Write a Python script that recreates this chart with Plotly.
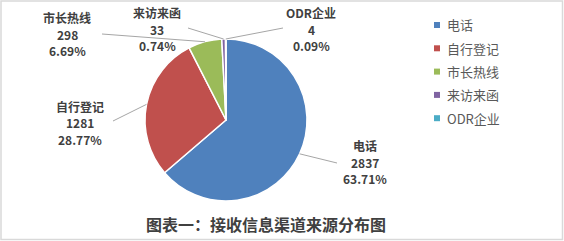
import math
import plotly.graph_objects as go

categories = ["电话", "自行登记", "市长热线", "来访来函", "ODR企业"]
values = [2837, 1281, 298, 33, 4]
percent_labels = ["63.71%", "28.77%", "6.69%", "0.74%", "0.09%"]
colors = ["#4F81BD", "#C0504D", "#9BBB59", "#8064A2", "#4BACC6"]
title_text = "图表一：接收信息渠道来源分布图"

W, H = 564, 241
CX, CY, R = 226, 120, 81

def px(x):
    return x / W

def py(y):
    return (H - y) / H

# label anchor positions (text center of middle line) and leader end points (pixel layout)
label_centers = [(365, 162), (80, 123), (67, 34), (157, 29), (311, 29)]
leader_ends = [(337, 163), (113, 121), (102, 34), (188, 28), (283, 28)]
LINE_GAP = 16.5

fig = go.Figure()
fig.add_trace(go.Pie(
    labels=categories,
    values=values,
    sort=False,
    direction="clockwise",
    rotation=0,
    marker=dict(colors=colors, line=dict(color="white", width=1.5)),
    textinfo="none",
    hoverinfo="label+value+percent",
    showlegend=False,
    domain=dict(x=[px(CX - R), px(CX + R)], y=[py(CY + R), py(CY - R)]),
))

shapes = []
annotations = []
total = sum(values)
cum = 0
for i, v in enumerate(values):
    mid = (cum + v / 2) / total * 2 * math.pi
    cum += v
    ex = CX + R * math.sin(mid)
    ey = CY - R * math.cos(mid)
    lx, ly = leader_ends[i]
    shapes.append(dict(type="line", xref="paper", yref="paper",
                       x0=px(ex), y0=py(ey), x1=px(lx), y1=py(ly),
                       line=dict(color="#A6A6A6", width=1)))
    tx, ty = label_centers[i]
    for k, line_text in enumerate([categories[i], str(v), percent_labels[i]]):
        annotations.append(dict(
            x=px(tx), y=py(ty + (k - 1) * LINE_GAP), xref="paper", yref="paper",
            text=f"<b>{line_text}</b>",
            showarrow=False, xanchor="center", yanchor="middle",
            borderpad=0, borderwidth=0,
            font=dict(family="Noto Sans CJK SC", size=12, color="#404040"),
        ))

# custom legend
for i, c in enumerate(categories):
    ly = 25 + i * 23.3
    shapes.append(dict(type="rect", xref="paper", yref="paper",
                       x0=px(434), x1=px(440), y0=py(ly + 3), y1=py(ly - 3),
                       fillcolor=colors[i], line=dict(width=0)))
    annotations.append(dict(
        x=px(447), y=py(ly), xref="paper", yref="paper", text=c,
        showarrow=False, xanchor="left", yanchor="middle",
        borderpad=0, borderwidth=0,
        font=dict(family="Noto Sans CJK SC", size=13, color="#595959"),
    ))

# title
annotations.append(dict(
    x=px(266), y=py(224), xref="paper", yref="paper",
    text=f"<b>{title_text}</b>", showarrow=False,
    xanchor="center", yanchor="middle",
    font=dict(family="Noto Sans CJK SC", size=16, color="#404040"),
))

# border
shapes.append(dict(type="rect", xref="paper", yref="paper",
                   x0=px(1), x1=px(562.5), y0=py(239.5), y1=py(1),
                   line=dict(color="#D9D9D9", width=1.5), fillcolor="rgba(0,0,0,0)"))

fig.update_layout(
    width=W, height=H,
    margin=dict(l=0, r=0, t=0, b=0),
    paper_bgcolor="white",
    plot_bgcolor="white",
    shapes=shapes,
    annotations=annotations,
    showlegend=False,
)

fig.write_html("out.html")
